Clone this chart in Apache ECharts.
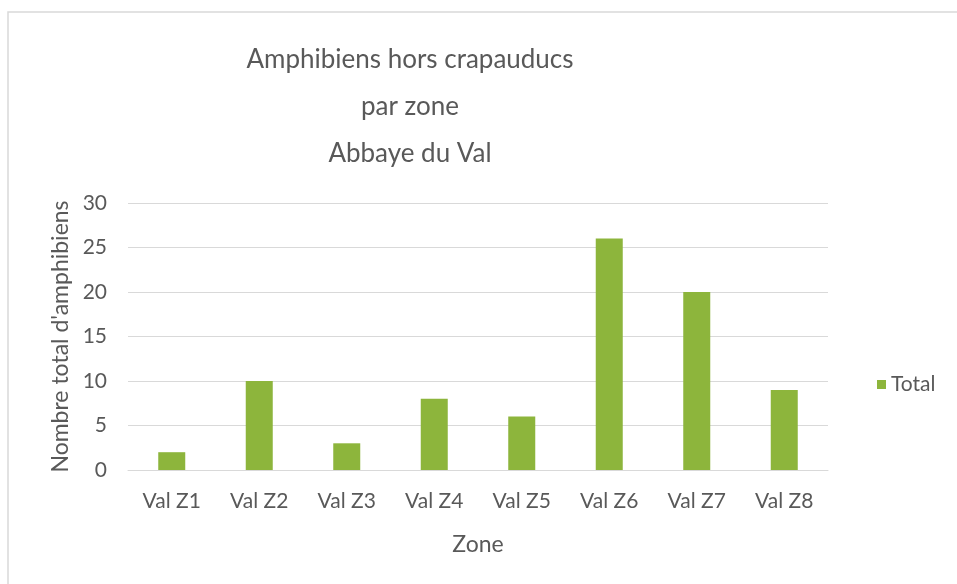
<!DOCTYPE html>
<html>
<head>
<meta charset="utf-8">
<script src="https://cdn.jsdelivr.net/npm/echarts@6/dist/echarts.min.js"></script>
<style>
  html, body { margin: 0; padding: 0; background: #fff; }
  #chart { width: 957px; height: 584px; }
</style>
</head>
<body>
<div id="chart"></div>
<script>
var zones = ['Val Z1', 'Val Z2', 'Val Z3', 'Val Z4', 'Val Z5', 'Val Z6', 'Val Z7', 'Val Z8'];
var totals = [2, 10, 3, 8, 6, 26, 20, 9];
var titleLines = ['Amphibiens hors crapauducs', 'par zone', 'Abbaye du Val'];

var myChart = echarts.init(document.getElementById('chart'));
var txt = '#595959';
var fnt = 'Lato';

option = {
    backgroundColor: '#fff',
    animation: false,
    graphic: [{
        type: 'rect',
        shape: { x: 8, y: 12, width: 960, height: 590 },
        style: { fill: 'none', stroke: '#d9d9d9', lineWidth: 1.5 }
    }],
    title: {
        text: titleLines.join('\n'),
        left: 405,
        top: 31,
        textAlign: 'center',
        textStyle: { color: txt, fontFamily: fnt, fontSize: 26, fontWeight: 'normal', lineHeight: 47 }
    },
    legend: {
        data: ['Total'],
        left: 872,
        top: 369,
        itemWidth: 9,
        itemHeight: 9,
        itemGap: 6,
        icon: 'rect',
        textStyle: { color: txt, fontFamily: fnt, fontSize: 21 }
    },
    grid: { left: 128, right: 129, top: 203, bottom: 114 },
    xAxis: {
        type: 'category',
        data: zones,
        name: 'Zone',
        nameLocation: 'middle',
        nameGap: 63,
        nameTextStyle: { color: txt, fontFamily: fnt, fontSize: 23 },
        axisLine: { lineStyle: { color: '#d9d9d9' } },
        axisTick: { show: false },
        axisLabel: { color: txt, fontFamily: fnt, fontSize: 21, margin: 21 }
    },
    yAxis: {
        type: 'value',
        min: 0,
        max: 30,
        interval: 5,
        name: "Nombre total d'amphibiens",
        nameLocation: 'middle',
        nameGap: 55,
        nameTextStyle: { color: txt, fontFamily: fnt, fontSize: 23 },
        axisLine: { show: false },
        axisTick: { show: false },
        axisLabel: { color: txt, fontFamily: fnt, fontSize: 21, margin: 21 },
        splitLine: { lineStyle: { color: '#d9d9d9' } }
    },
    series: [{
        name: 'Total',
        type: 'bar',
        data: totals,
        barWidth: 27,
        itemStyle: { color: '#8db53c' }
    }]
};
myChart.setOption(option);
</script>
</body>
</html>
